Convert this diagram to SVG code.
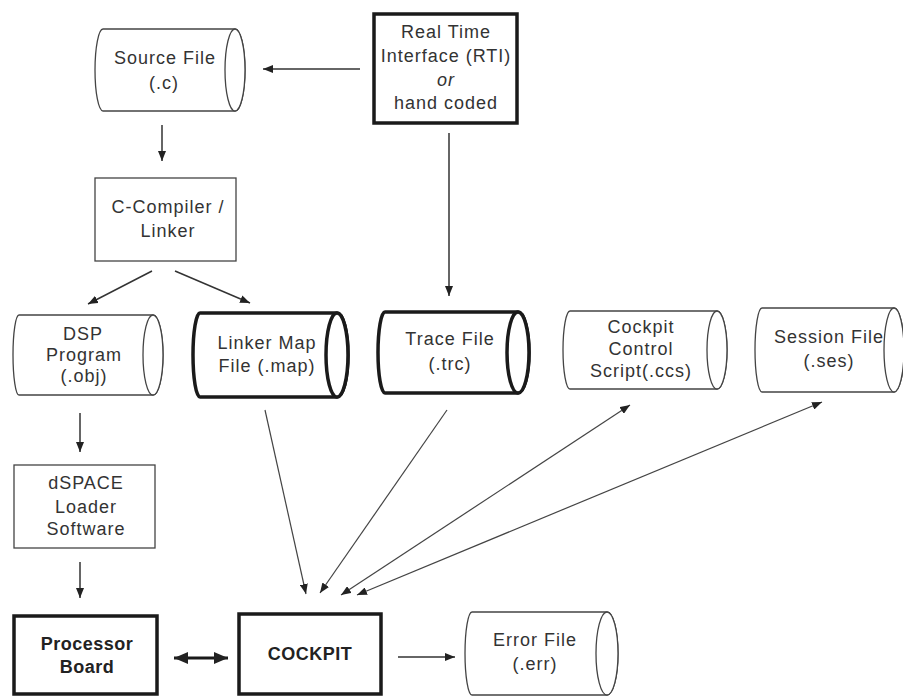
<svg xmlns="http://www.w3.org/2000/svg" width="903" height="697" viewBox="0 0 903 697">
<defs>
<marker id="ah" markerUnits="userSpaceOnUse" markerWidth="10" markerHeight="8" refX="10" refY="4" orient="auto-start-reverse">
<path d="M0,0 L10,4 L0,8 z" fill="#222"/>
</marker>
<marker id="ahb" markerUnits="userSpaceOnUse" markerWidth="14" markerHeight="12" refX="14" refY="6" orient="auto-start-reverse">
<path d="M0,0 L14,6 L0,12 z" fill="#222"/>
</marker>
</defs>
<style>
text{font-family:"Liberation Sans",Arial,sans-serif;font-size:18px;fill:#333;text-anchor:middle;letter-spacing:1px}
.b{font-weight:bold;fill:#222;letter-spacing:0.5px}
.i{font-style:italic}
.thin{fill:#fff;stroke:#444;stroke-width:1.3}
.thick{fill:#fff;stroke:#1a1a1a;stroke-width:3.5}
.c{fill:none;stroke:#333;stroke-width:1.5}
.cl{fill:none;stroke:#444;stroke-width:1.2}
.cb{fill:none;stroke:#1a1a1a;stroke-width:3}
</style>
<rect width="903" height="697" fill="#fff"/>

<g id="connectors">
<path class="c" d="M360,69 L263,69" marker-end="url(#ah)"/>
<path class="c" d="M162,125 L162,161" marker-end="url(#ah)"/>
<path class="c" d="M152,271 L88,304" marker-end="url(#ah)"/>
<path class="c" d="M175,271 L250,303" marker-end="url(#ah)"/>
<path class="c" d="M449,133 L449,296" stroke-width="2" marker-end="url(#ah)"/>
<path class="c" d="M80,413 L80,452" marker-end="url(#ah)"/>
<path class="c" d="M80,562 L80,598" marker-end="url(#ah)"/>
<path class="cb" d="M174,658 L228,658" marker-start="url(#ahb)" marker-end="url(#ahb)"/>
<path class="c" d="M398,657 L455,657" marker-end="url(#ah)"/>
<path class="cl" d="M265,410 L306,594" marker-end="url(#ah)"/>
<path class="cl" d="M447,410 L320,593" marker-end="url(#ah)"/>
<path class="cl" d="M630,405 L341,595" marker-start="url(#ah)" marker-end="url(#ah)"/>
<path class="cl" d="M822,402 L357,595" marker-start="url(#ah)" marker-end="url(#ah)"/>
</g>

<g id="source-file">
<path class="thin" d="M103,29 L235,29 A10,41 0 0 1 235,111 L103,111 A8,41 0 0 1 103,29 z"/>
<ellipse class="thin" cx="235" cy="70" rx="10" ry="41"/>
<text x="165" y="64">Source File</text>
<text x="164" y="89">(.c)</text>
</g>

<g id="rti">
<rect class="thick" x="374" y="14" width="143" height="109"/>
<text x="446" y="38">Real Time</text>
<text x="446" y="62">Interface (RTI)</text>
<text x="446" y="86" class="i">or</text>
<text x="446" y="109">hand coded</text>
</g>

<g id="compiler">
<rect class="thin" x="95" y="178" width="141" height="83"/>
<text x="168" y="213">C-Compiler /</text>
<text x="168" y="237">Linker</text>
</g>

<g id="dsp-program">
<path class="thin" d="M19,315 L153,315 A10,40 0 0 1 153,395 L19,395 A6,40 0 0 1 19,315 z"/>
<ellipse class="thin" cx="153" cy="355" rx="10" ry="40"/>
<text x="83" y="340">DSP</text>
<text x="84" y="361">Program</text>
<text x="84" y="382">(.obj)</text>
</g>

<g id="linker-map">
<path class="thick" d="M200,313 L337,313 A11,42 0 0 1 337,397 L200,397 A7,42 0 0 1 200,313 z"/>
<ellipse class="thick" cx="337" cy="355" rx="11" ry="42"/>
<text x="267" y="349">Linker Map</text>
<text x="267" y="372">File (.map)</text>
</g>

<g id="trace-file">
<path class="thick" d="M385,312 L518,312 A11,40.5 0 0 1 518,393 L385,393 A7,40.5 0 0 1 385,312 z"/>
<ellipse class="thick" cx="518" cy="352.5" rx="11" ry="40.5"/>
<text x="450" y="345">Trace File</text>
<text x="450" y="370">(.trc)</text>
</g>

<g id="cockpit-control-script">
<path class="thin" d="M570,311 L717,311 A10,39 0 0 1 717,389 L570,389 A7,39 0 0 1 570,311 z"/>
<ellipse class="thin" cx="717" cy="350" rx="10" ry="39"/>
<text x="641" y="333">Cockpit</text>
<text x="641" y="355">Control</text>
<text x="641" y="377">Script(.ccs)</text>
</g>

<g id="session-file">
<path class="thin" d="M762,308 L894,308 A10,42 0 0 1 894,392 L762,392 A7,42 0 0 1 762,308 z"/>
<ellipse class="thin" cx="894" cy="350" rx="10" ry="42"/>
<text x="829" y="343">Session File</text>
<text x="829" y="367">(.ses)</text>
</g>

<g id="loader">
<rect class="thin" x="14" y="465" width="141" height="83"/>
<text x="86" y="489">dSPACE</text>
<text x="86" y="513">Loader</text>
<text x="86" y="535">Software</text>
</g>

<g id="processor-board">
<rect class="thick" x="14" y="616" width="143" height="78"/>
<text x="87" y="650" class="b">Processor</text>
<text x="87" y="673" class="b">Board</text>
</g>

<g id="cockpit">
<rect class="thick" x="239" y="614" width="142" height="80"/>
<text x="310" y="660" class="b">COCKPIT</text>
</g>

<g id="error-file">
<path class="thin" d="M472,612 L607,612 A11,41.5 0 0 1 607,695 L472,695 A7,41.5 0 0 1 472,612 z"/>
<ellipse class="thin" cx="607" cy="653.5" rx="11" ry="41.5"/>
<text x="535" y="646">Error File</text>
<text x="535" y="670">(.err)</text>
</g>
</svg>
